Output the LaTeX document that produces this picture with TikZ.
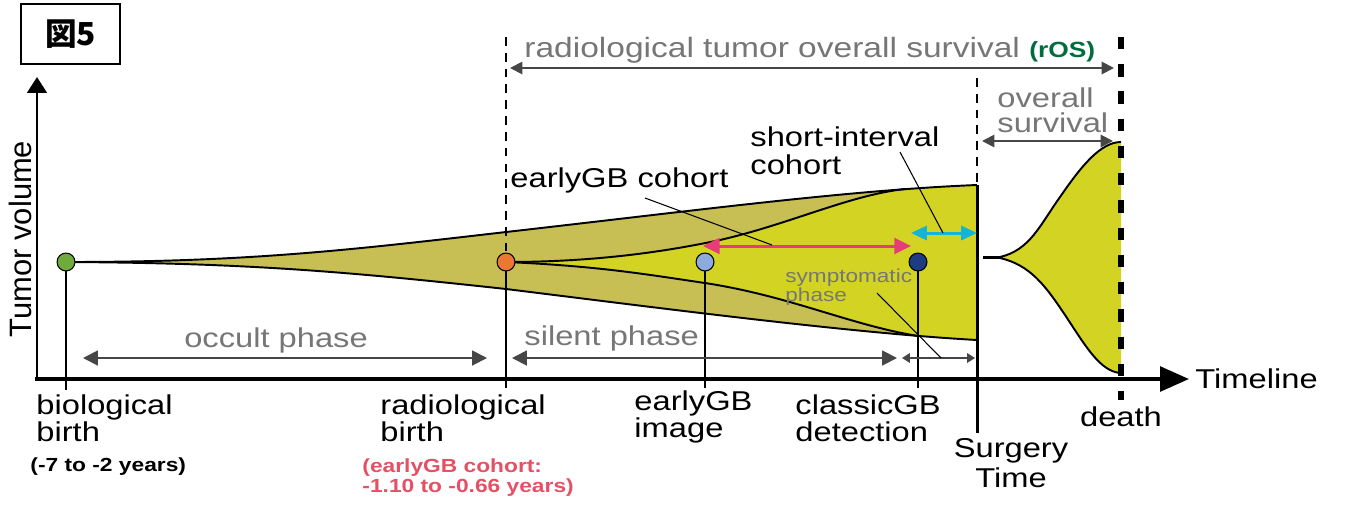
\documentclass[tikz,border=0pt]{standalone}
\usepackage{fontspec}
\setmainfont{Liberation Sans}
\newfontfamily\cjk{Noto Sans CJK JP}
\usetikzlibrary{arrows.meta}
\definecolor{olivefill}{RGB}{199,190,84}
\definecolor{yellowfill}{RGB}{211,211,35}
\definecolor{phasegray}{RGB}{118,118,118}
\definecolor{arrowgray}{RGB}{70,70,70}
\definecolor{rosgreen}{RGB}{0,110,60}
\definecolor{cohortred}{RGB}{228,80,100}
\definecolor{pinkarrow}{RGB}{230,60,120}
\definecolor{cyanarrow}{RGB}{20,180,215}
\definecolor{biogreen}{RGB}{110,170,60}
\definecolor{radorange}{RGB}{235,120,50}
\definecolor{earlyblue}{RGB}{140,170,220}
\definecolor{classicblue}{RGB}{30,60,130}
\tikzset{
  lbl/.style={inner sep=0pt, xscale=1.2, font=\fontsize{15.5}{15.4}\selectfont, align=left},
  smalllbl/.style={inner sep=0pt, xscale=1.2, font=\fontsize{10.8}{11.4}\selectfont\bfseries, align=left},
  dot/.style={circle, draw=black, line width=0.6pt, minimum size=10.2pt, inner sep=0pt},
  tick/.style={line width=1.1pt},
  curve/.style={line width=1.1pt},
  pointer/.style={line width=0.6pt},
  thindash/.style={line width=0.8pt, dash pattern=on 5pt off 4pt},
  phasearrow/.style={arrowgray, line width=1.1pt, {Triangle[length=8.5pt,width=8.5pt]}-{Triangle[length=8.5pt,width=8.5pt]}},
  toparrow/.style={arrowgray, line width=1.1pt, {Triangle[length=7pt,width=7pt]}-{Triangle[length=7pt,width=7pt]}}
}
\begin{document}
\begin{tikzpicture}[x=0.02cm, y=-0.02cm]
        \useasboundingbox (0,0) rectangle (1364,525);
        \node[draw, line width=0.9pt, minimum width=1.98cm, minimum height=1.2cm, font=\fontsize{18}{18}\selectfont\cjk\bfseries] (fig) at (70.5,34) {図5};
        \node[inner sep=0pt, rotate=90, font=\fontsize{17.6}{18}\selectfont] (yaxis) at (20,239) {Tumor volume};
        \coordinate (origin) at (37,379);
        \coordinate (ytip) at (37,77);
        \coordinate (xtip) at (1189,379);
        \draw[line width=1.7pt, -{Triangle[length=9pt,width=11pt]}] (origin) -- (ytip);
        \draw[line width=2.3pt, -{Triangle[length=16.5pt,width=14pt]}] (35,379) -- (xtip);
        \node[lbl, anchor=west] (timeline) at (1195,379) {Timeline};
        \fill[olivefill] (66,262) .. controls (250,263) and (350,250) .. (506,232) .. controls (700,210) and (850,190) .. (977,185) -- (977,340) .. controls (850,333) and (660,308) .. (506,289) .. controls (350,272) and (250,263) .. (66,262);
        \fill[yellowfill] (506,262) .. controls (580,262) and (650,255) .. (720,240) .. controls (790,224) and (850,195) .. (905,189) -- (977,185) -- (977,340) -- (918,336) .. controls (850,325) and (790,296) .. (705,283) .. controls (650,275) and (600,266) .. (506,262);
        \draw[curve] (66,262) .. controls (250,262) and (350,250) .. (506,232) .. controls (700,210) and (850,190) .. (977,185);
        \draw[curve] (66,262) .. controls (250,263) and (350,272) .. (506,289) .. controls (660,308) and (850,333) .. (977,340);
        \draw[curve] (506,262) .. controls (580,262) and (650,255) .. (720,240) .. controls (790,224) and (850,195) .. (905,189);
        \draw[curve] (506,262) .. controls (600,266) and (650,275) .. (705,283) .. controls (790,296) and (850,325) .. (918,336);
        \fill[yellowfill] (1000,257) .. controls (1030,250) and (1040,225) .. (1060,197) .. controls (1080,168) and (1100,142) .. (1121,142) -- (1121,373) .. controls (1100,372) and (1085,345) .. (1065,315) .. controls (1045,285) and (1030,265) .. (1000,258) -- cycle;
        \draw[curve] (1000,257) .. controls (1030,250) and (1040,225) .. (1060,197) .. controls (1080,168) and (1100,142) .. (1121,142);
        \draw[curve] (1000,258) .. controls (1030,265) and (1045,285) .. (1065,315) .. controls (1085,345) and (1100,372) .. (1121,373);
        \draw[line width=2pt] (983,257.5) -- (1003,257.5);
        \coordinate (blocktop) at (977,185);
        \coordinate (surgery) at (977,433);
        \draw[line width=1.7pt] (blocktop) -- (surgery);
        \draw[thindash] (977,78) -- (blocktop);
        \draw[line width=3pt, dash pattern=on 7pt off 8.5pt] (1121,37) -- (1121,400);
        \node[dot, fill=biogreen] (bio) at (66,262) {};
        \node[dot, fill=radorange] (rad) at (506,262) {};
        \node[dot, fill=earlyblue] (early) at (705,262) {};
        \node[dot, fill=classicblue] (classic) at (918,262) {};
        \draw[thindash] (506,37) -- (rad);
        \draw[tick] (bio) -- (66,390);
        \draw[tick] (rad) -- (506,388);
        \draw[tick] (early) -- (705,388);
        \draw[tick] (classic) -- (918,388);
        \coordinate (rosL) at (510,68);
        \coordinate (rosR) at (1114,68);
        \draw[toparrow] (rosL) -- (rosR);
        \node[lbl, anchor=west, text=phasegray, font=\fontsize{15.9}{16}\selectfont] (ros) at (524,50) {radiological tumor overall survival {\color{rosgreen}\fontsize{12.5}{12}\selectfont\bfseries(rOS)}};
        \coordinate (osL) at (982,141);
        \coordinate (osR) at (1113,141);
        \draw[toparrow] (osL) -- (osR);
        \node[lbl, anchor=west, text=phasegray, font=\fontsize{15.5}{14.4}\selectfont] (os) at (997,110) {overall\\survival};
        \coordinate (occultL) at (83,358);
        \coordinate (occultR) at (487,358);
        \draw[phasearrow] (occultL) -- (occultR);
        \node[lbl, text=phasegray] (occult) at (276,340) {occult phase};
        \coordinate (silentL) at (512,358);
        \coordinate (silentR) at (897,358);
        \draw[phasearrow] (silentL) -- (silentR);
        \node[lbl, anchor=west, text=phasegray] (silent) at (524,338) {silent phase};
        \coordinate (sympL) at (902,358);
        \coordinate (sympR) at (975,358);
        \draw[arrowgray, line width=0.7pt, {Triangle[length=4.5pt,width=5.5pt]}-{Triangle[length=4.5pt,width=5.5pt]}] (sympL) -- (sympR);
        \node[lbl, anchor=west, text=phasegray, font=\fontsize{10.7}{9.7}\selectfont] (symp) at (785,287) {symptomatic\\phase};
        \coordinate (sympP) at (877,293);
        \coordinate (sympQ) at (941,358);
        \draw[pointer] (sympP) -- (sympQ);
        \coordinate (pinkL) at (703,246);
        \coordinate (pinkR) at (911,246);
        \draw[pinkarrow, line width=1.7pt, {Triangle[length=9.5pt,width=9pt]}-{Triangle[length=9.5pt,width=9pt]}] (pinkL) -- (pinkR);
        \coordinate (cyanL) at (911,233);
        \coordinate (cyanR) at (977,233);
        \draw[cyanarrow, line width=1.7pt, {Triangle[length=9pt,width=8pt]}-{Triangle[length=9pt,width=8pt]}] (cyanL) -- (cyanR);
        \node[lbl, anchor=west] (earlycohort) at (510,180) {earlyGB cohort};
        \coordinate (earlyP) at (645,198);
        \coordinate (earlyQ) at (772,245);
        \draw[pointer] (earlyP) -- (earlyQ);
        \node[lbl, anchor=west, font=\fontsize{15.5}{16}\selectfont] (shortcohort) at (750,151) {short-interval\\cohort};
        \coordinate (shortP) at (900,152);
        \coordinate (shortQ) at (943,233);
        \draw[pointer] (shortP) -- (shortQ);
        \node[lbl, anchor=west] (biobirth) at (36,418) {biological\\birth};
        \node[smalllbl, anchor=west] (bioyears) at (30,467) {(-7 to -2 years)};
        \node[lbl, anchor=west] (radbirth) at (380,418) {radiological\\birth};
        \node[smalllbl, anchor=west, text=cohortred] (radyears) at (362,478) {(earlyGB cohort:\\-1.10 to -0.66 years)};
        \node[lbl, anchor=west] (earlyimage) at (634,417) {earlyGB\\image};
        \node[lbl, anchor=west] (classicdet) at (795,418) {classicGB\\detection};
        \node[lbl, align=center, font=\fontsize{15.5}{17}\selectfont] (surgerytime) at (1011,463) {Surgery\\Time};
        \node[lbl] (death) at (1121,417) {death};
\end{tikzpicture}
\end{document}
